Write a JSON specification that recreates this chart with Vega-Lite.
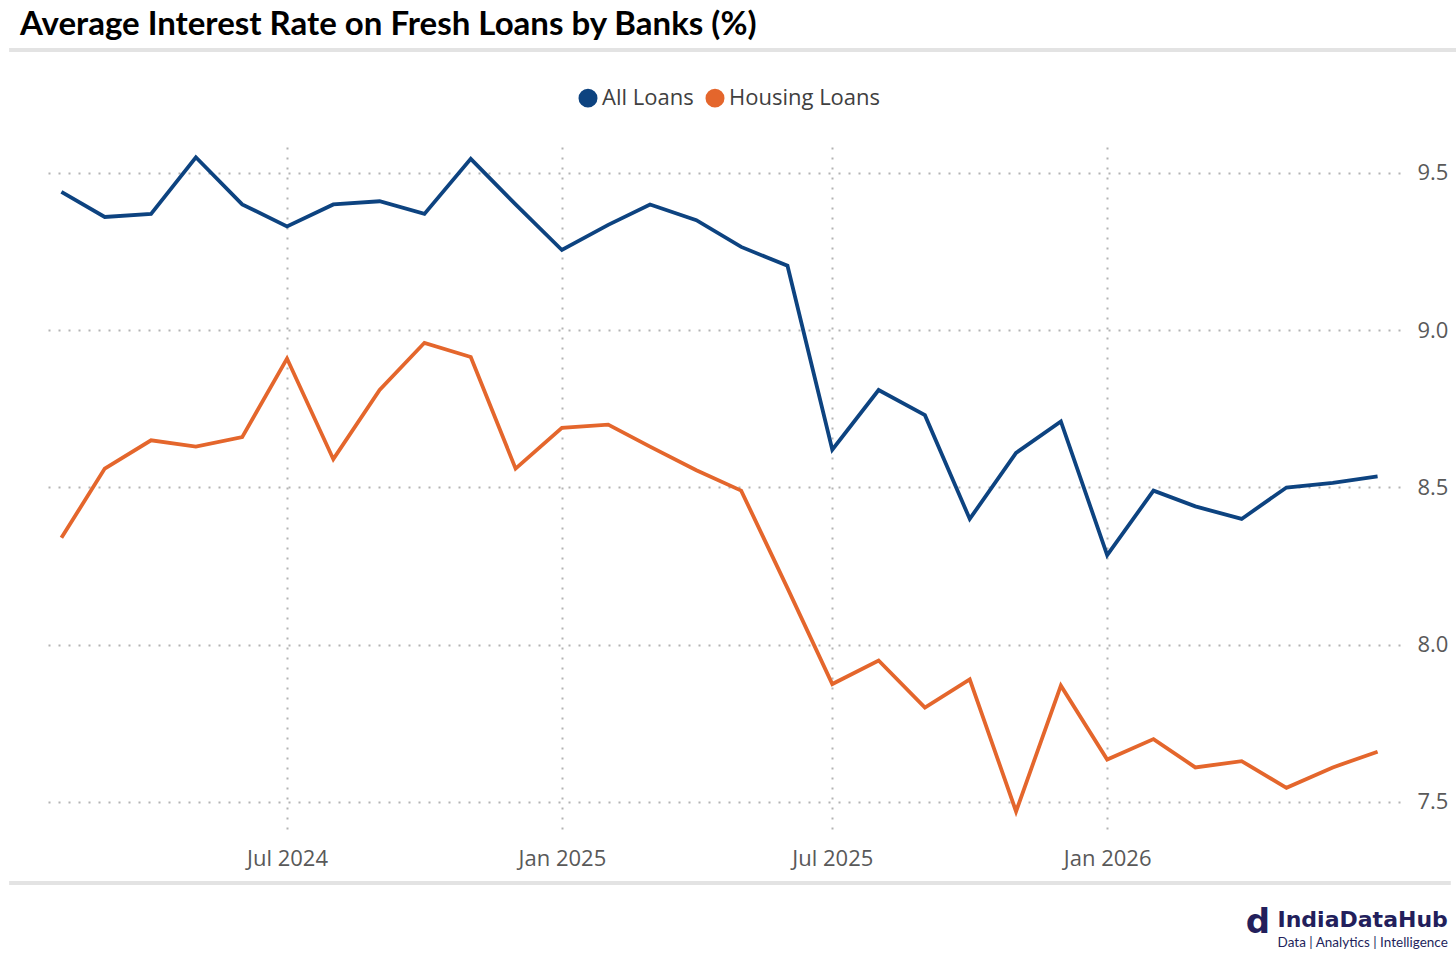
{
  "$schema": "https://vega.github.io/schema/vega-lite/v6.json",
  "width": 1358,
  "height": 690,
  "autosize": {"type": "none"},
  "padding": {"left": 42, "top": 147, "right": 56, "bottom": 124},
  "background": "white",
  "title": {
    "text": "Average Interest Rate on Fresh Loans by Banks (%)",
    "anchor": "start",
    "frame": "group",
    "orient": "top",
    "baseline": "alphabetic",
    "offset": 13,
    "dx": -22,
    "dy": 33,
    "font": "Liberation Sans Narrow, Lato",
    "fontSize": 33,
    "fontWeight": "bold",
    "color": "#000000"
  },
  "config": {
    "view": {"stroke": null},
    "axis": {
      "title": null,
      "domain": false,
      "ticks": false,
      "grid": true,
      "gridColor": "#b3b3b3",
      "gridDash": [2, 8],
      "gridWidth": 2,
      "labelFont": "Open Sans",
      "labelFontSize": 22,
      "labelColor": "#595959"
    }
  },
  "data": {
    "values": [
      {"date": "2024-02-01", "series": "All Loans", "rate": 9.44},
      {"date": "2024-03-01", "series": "All Loans", "rate": 9.36},
      {"date": "2024-04-01", "series": "All Loans", "rate": 9.37},
      {"date": "2024-05-01", "series": "All Loans", "rate": 9.55},
      {"date": "2024-06-01", "series": "All Loans", "rate": 9.40},
      {"date": "2024-07-01", "series": "All Loans", "rate": 9.33},
      {"date": "2024-08-01", "series": "All Loans", "rate": 9.40},
      {"date": "2024-09-01", "series": "All Loans", "rate": 9.41},
      {"date": "2024-10-01", "series": "All Loans", "rate": 9.37},
      {"date": "2024-11-01", "series": "All Loans", "rate": 9.545},
      {"date": "2024-12-01", "series": "All Loans", "rate": 9.40},
      {"date": "2025-01-01", "series": "All Loans", "rate": 9.255},
      {"date": "2025-02-01", "series": "All Loans", "rate": 9.335},
      {"date": "2025-03-01", "series": "All Loans", "rate": 9.40},
      {"date": "2025-04-01", "series": "All Loans", "rate": 9.35},
      {"date": "2025-05-01", "series": "All Loans", "rate": 9.265},
      {"date": "2025-06-01", "series": "All Loans", "rate": 9.205},
      {"date": "2025-07-01", "series": "All Loans", "rate": 8.62},
      {"date": "2025-08-01", "series": "All Loans", "rate": 8.81},
      {"date": "2025-09-01", "series": "All Loans", "rate": 8.73},
      {"date": "2025-10-01", "series": "All Loans", "rate": 8.40},
      {"date": "2025-11-01", "series": "All Loans", "rate": 8.61},
      {"date": "2025-12-01", "series": "All Loans", "rate": 8.71},
      {"date": "2026-01-01", "series": "All Loans", "rate": 8.285},
      {"date": "2026-02-01", "series": "All Loans", "rate": 8.49},
      {"date": "2026-03-01", "series": "All Loans", "rate": 8.44},
      {"date": "2026-04-01", "series": "All Loans", "rate": 8.40},
      {"date": "2026-05-01", "series": "All Loans", "rate": 8.50},
      {"date": "2026-06-01", "series": "All Loans", "rate": 8.515},
      {"date": "2026-07-01", "series": "All Loans", "rate": 8.535},
      {"date": "2024-02-01", "series": "Housing Loans", "rate": 8.34},
      {"date": "2024-03-01", "series": "Housing Loans", "rate": 8.56},
      {"date": "2024-04-01", "series": "Housing Loans", "rate": 8.65},
      {"date": "2024-05-01", "series": "Housing Loans", "rate": 8.63},
      {"date": "2024-06-01", "series": "Housing Loans", "rate": 8.66},
      {"date": "2024-07-01", "series": "Housing Loans", "rate": 8.91},
      {"date": "2024-08-01", "series": "Housing Loans", "rate": 8.59},
      {"date": "2024-09-01", "series": "Housing Loans", "rate": 8.81},
      {"date": "2024-10-01", "series": "Housing Loans", "rate": 8.96},
      {"date": "2024-11-01", "series": "Housing Loans", "rate": 8.915},
      {"date": "2024-12-01", "series": "Housing Loans", "rate": 8.56},
      {"date": "2025-01-01", "series": "Housing Loans", "rate": 8.69},
      {"date": "2025-02-01", "series": "Housing Loans", "rate": 8.70},
      {"date": "2025-03-01", "series": "Housing Loans", "rate": 8.63},
      {"date": "2025-04-01", "series": "Housing Loans", "rate": 8.555},
      {"date": "2025-05-01", "series": "Housing Loans", "rate": 8.49},
      {"date": "2025-06-01", "series": "Housing Loans", "rate": 8.18},
      {"date": "2025-07-01", "series": "Housing Loans", "rate": 7.875},
      {"date": "2025-08-01", "series": "Housing Loans", "rate": 7.95},
      {"date": "2025-09-01", "series": "Housing Loans", "rate": 7.80},
      {"date": "2025-10-01", "series": "Housing Loans", "rate": 7.89},
      {"date": "2025-11-01", "series": "Housing Loans", "rate": 7.47},
      {"date": "2025-12-01", "series": "Housing Loans", "rate": 7.87},
      {"date": "2026-01-01", "series": "Housing Loans", "rate": 7.635},
      {"date": "2026-02-01", "series": "Housing Loans", "rate": 7.70},
      {"date": "2026-03-01", "series": "Housing Loans", "rate": 7.61},
      {"date": "2026-04-01", "series": "Housing Loans", "rate": 7.63},
      {"date": "2026-05-01", "series": "Housing Loans", "rate": 7.545},
      {"date": "2026-06-01", "series": "Housing Loans", "rate": 7.61},
      {"date": "2026-07-01", "series": "Housing Loans", "rate": 7.66}
    ]
  },
  "layer": [
    {
      "mark": {"type": "line", "strokeWidth": 3.8},
      "encoding": {
        "x": {
          "field": "date",
          "type": "temporal",
          "scale": {
            "type": "utc",
            "domain": [
              {"year": 2024, "month": 1, "date": 19, "utc": true},
              {"year": 2026, "month": 7, "date": 16, "utc": true}
            ]
          },
          "axis": {
            "title": null,
            "values": [
              {"year": 2024, "month": 7, "date": 1, "utc": true},
              {"year": 2025, "month": 1, "date": 1, "utc": true},
              {"year": 2025, "month": 7, "date": 1, "utc": true},
              {"year": 2026, "month": 1, "date": 1, "utc": true}
            ],
            "format": "%b %Y",
            "labelPadding": 11,
            "labelFlush": false,
            "labelOverlap": false
          }
        },
        "y": {
          "field": "rate",
          "type": "quantitative",
          "scale": {"domain": [7.3887, 9.5826], "nice": false, "zero": false},
          "axis": {
            "title": null,
            "orient": "right",
            "values": [7.5, 8, 8.5, 9, 9.5],
            "format": ".1f",
            "labelPadding": 17,
            "labelAlign": "left",
            "labelBaseline": "middle"
          }
        },
        "color": {
          "field": "series",
          "type": "nominal",
          "scale": {"domain": ["All Loans", "Housing Loans"], "range": ["#0d4380", "#e4662c"]},
          "legend": {
            "title": null,
            "orient": "none",
            "legendX": 535,
            "legendY": -60,
            "direction": "horizontal",
            "padding": 0,
            "symbolType": "circle",
            "symbolSize": 90,
            "symbolStrokeWidth": 9.5,
            "symbolOpacity": 1,
            "labelFont": "Open Sans",
            "labelFontSize": 22,
            "labelColor": "#404040",
            "labelOffset": 3,
            "columnPadding": -3
          }
        }
      }
    },
    {
      "data": {"values": [{}]},
      "mark": {"type": "rule", "color": "#e3e3e3", "strokeWidth": 4},
      "encoding": {
        "x": {"datum": {"year": 2023, "month": 12, "date": 28, "utc": true}, "type": "temporal"},
        "x2": {"datum": {"year": 2026, "month": 8, "date": 24, "utc": true}},
        "y": {"datum": 9.891, "type": "quantitative"}
      }
    },
    {
      "data": {"values": [{}]},
      "mark": {"type": "rule", "color": "#e3e3e3", "strokeWidth": 4},
      "encoding": {
        "x": {"datum": {"year": 2023, "month": 12, "date": 28, "utc": true}, "type": "temporal"},
        "x2": {"datum": {"year": 2026, "month": 8, "date": 19, "utc": true}},
        "y": {"datum": 7.2424, "type": "quantitative"}
      }
    },
    {
      "data": {"values": [{"label": "IndiaDataHub"}]},
      "mark": {"type": "text", "align": "right", "baseline": "alphabetic", "font": "DejaVu Sans", "fontWeight": "bold", "fontSize": 22, "color": "#231f5c"},
      "encoding": {
        "x": {"datum": {"year": 2026, "month": 8, "date": 17, "utc": true}, "type": "temporal"},
        "y": {"datum": 7.1025, "type": "quantitative"},
        "text": {"field": "label"}
      }
    },
    {
      "data": {"values": [{"label": "Data | Analytics | Intelligence"}]},
      "mark": {"type": "text", "align": "right", "baseline": "alphabetic", "font": "Lato", "fontSize": 13.5, "color": "#231f5c"},
      "encoding": {
        "x": {"datum": {"year": 2026, "month": 8, "date": 17, "utc": true}, "type": "temporal"},
        "y": {"datum": 7.0389, "type": "quantitative"},
        "text": {"field": "label"}
      }
    },
    {
      "data": {"values": [{"label": "d"}]},
      "mark": {"type": "text", "align": "right", "baseline": "alphabetic", "font": "DejaVu Sans", "fontWeight": "bold", "fontSize": 34, "color": "#231f5c"},
      "encoding": {
        "x": {"datum": {"year": 2026, "month": 4, "date": 20, "utc": true}, "type": "temporal"},
        "y": {"datum": 7.0834, "type": "quantitative"},
        "text": {"field": "label"}
      }
    }
  ]
}
